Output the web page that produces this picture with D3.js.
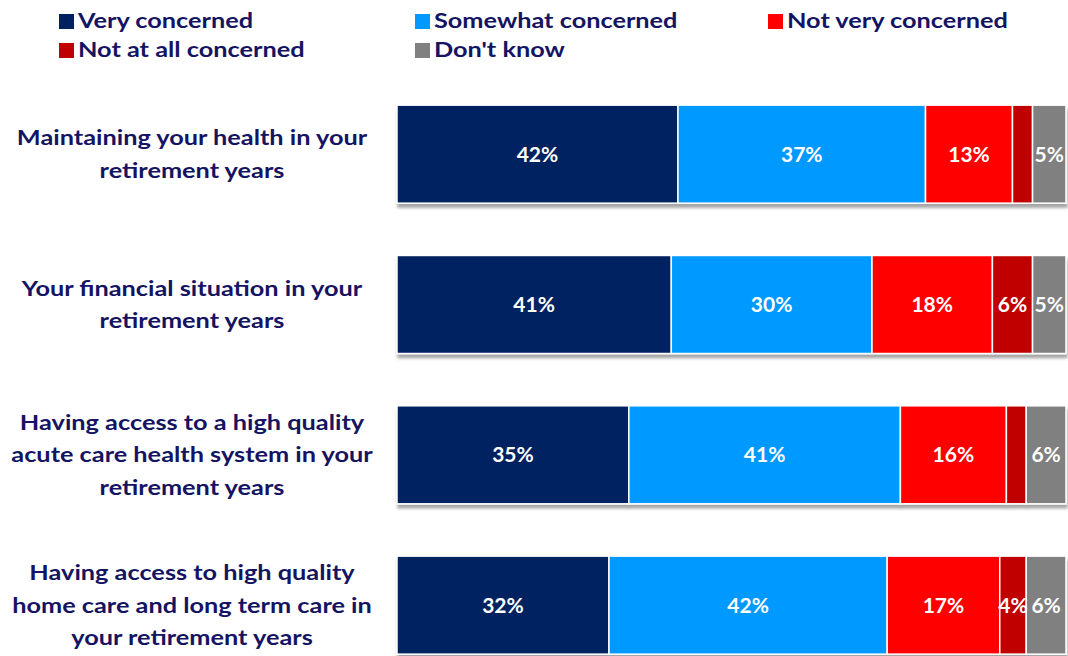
<!DOCTYPE html>
<html>
<head>
<meta charset="utf-8">
<script src="https://cdn.jsdelivr.net/npm/d3@7"></script>
<style>
  html, body { margin: 0; padding: 0; background: #fff; }
  svg { display: block; }
  text { font-family: Lato, "Open Sans", sans-serif; font-weight: 700; }
</style>
</head>
<body>
<svg id="chart" width="1068" height="656"></svg>
<script>
// Survey items (line breaks mark how each label wraps)
const categories = [
  "Maintaining your health in your\nretirement years",
  "Your financial situation in your\nretirement years",
  "Having access to a high quality\nacute care health system in your\nretirement years",
  "Having access to high quality\nhome care and long term care in\nyour retirement years"
];

const seriesNames = ["Very concerned", "Somewhat concerned", "Not very concerned", "Not at all concerned", "Don't know"];
const seriesColors = ["#002060", "#0099ff", "#ff0000", "#c00000", "#808080"];

// Percentages per series, one value per category
const veryConcerned     = [42, 41, 35, 32];
const somewhatConcerned = [37, 30, 41, 42];
const notVeryConcerned  = [13, 18, 16, 17];
const notAtAllConcerned = [3, 6, 3, 4];
const dontKnow          = [5, 5, 6, 6];

// Which segment values carry a printed label
const showLabel = [
  [true, true, true, true],
  [true, true, true, true],
  [true, true, true, true],
  [false, true, false, true],
  [true, true, true, true]
];

const seriesValues = [veryConcerned, somewhatConcerned, notVeryConcerned, notAtAllConcerned, dontKnow];

const rows = categories.map((c, i) => {
  const r = { category: c };
  seriesNames.forEach((s, k) => { r[s] = seriesValues[k][i]; });
  return r;
});

const svg = d3.select("#chart");
const textColor = "#141462";
const textSize = 20.5;    // category and legend text
const textStretch = 1.235; // the wide, low letterforms of the deck's typeface

// Soft shadow beneath each bar
const defs = svg.append("defs");
const f = defs.append("filter").attr("id", "shadow")
  .attr("x", "-2%").attr("y", "-5%").attr("width", "104%").attr("height", "120%");
f.append("feDropShadow").attr("dx", 1).attr("dy", 4).attr("stdDeviation", 1.8)
  .attr("flood-color", "#000").attr("flood-opacity", 0.35);

const stack = d3.stack().keys(seriesNames).offset(d3.stackOffsetExpand);
const stacked = stack(rows);

const x = d3.scaleLinear().domain([0, 1]).range([397, 1066]);
const y = d3.scaleBand().domain(categories).range([79, 680.3])
  .paddingInner(0.348).paddingOuter(0.174);

const color = d3.scaleOrdinal().domain(seriesNames).range(seriesColors);

// Bars
const barGroups = svg.append("g").selectAll("g.row")
  .data(categories)
  .join("g")
  .attr("class", "row")
  .attr("filter", "url(#shadow)");

barGroups.each(function(cat, i) {
  const g = d3.select(this);
  stacked.forEach((layer) => {
    const d = layer[i];
    g.append("rect")
      .attr("x", x(d[0]))
      .attr("y", y(cat))
      .attr("width", Math.max(0, x(d[1]) - x(d[0])))
      .attr("height", y.bandwidth())
      .attr("fill", color(layer.key))
      .attr("stroke", "#ffffff")
      .attr("stroke-width", 1.5);
  });
});

// Value labels
const labelG = svg.append("g");
stacked.forEach((layer, k) => {
  layer.forEach((d, i) => {
    if (!showLabel[k][i]) return;
    labelG.append("text")
      .attr("x", (x(d[0]) + x(d[1])) / 2)
      .attr("y", y(categories[i]) + y.bandwidth() / 2)
      .attr("dy", "0.36em")
      .attr("text-anchor", "middle")
      .attr("fill", "#ffffff")
      .attr("font-size", 21)
      .text(seriesValues[k][i] + "%");
  });
});

// Category labels
const catG = svg.append("g");
categories.forEach(c => {
  const lines = c.split("\n");
  const cy = y(c) + y.bandwidth() / 2;
  const lh = 32.5;
  const t = catG.append("text")
    .attr("transform", `translate(192,0) scale(${textStretch},1)`)
    .attr("text-anchor", "middle")
    .attr("fill", textColor)
    .attr("font-size", textSize);
  lines.forEach((ln, j) => {
    t.append("tspan")
      .attr("x", 0)
      .attr("y", cy + (j - (lines.length - 1) / 2) * lh)
      .attr("dy", "0.36em")
      .text(ln);
  });
});

// Legend: three columns, two rows
const legendPos = [[59, 21], [415, 21], [768, 21], [59, 50], [415, 50]];
const legend = svg.append("g");
seriesNames.forEach((s, k) => {
  const [lx, ly] = legendPos[k];
  legend.append("rect")
    .attr("x", lx).attr("y", ly - 7)
    .attr("width", 15).attr("height", 15)
    .attr("fill", color(s));
  legend.append("text")
    .attr("transform", `translate(${lx + 19},0) scale(${textStretch},1)`)
    .attr("x", 0).attr("y", ly)
    .attr("dy", "0.36em")
    .attr("fill", textColor)
    .attr("font-size", textSize)
    .text(s);
});
</script>
</body>
</html>
